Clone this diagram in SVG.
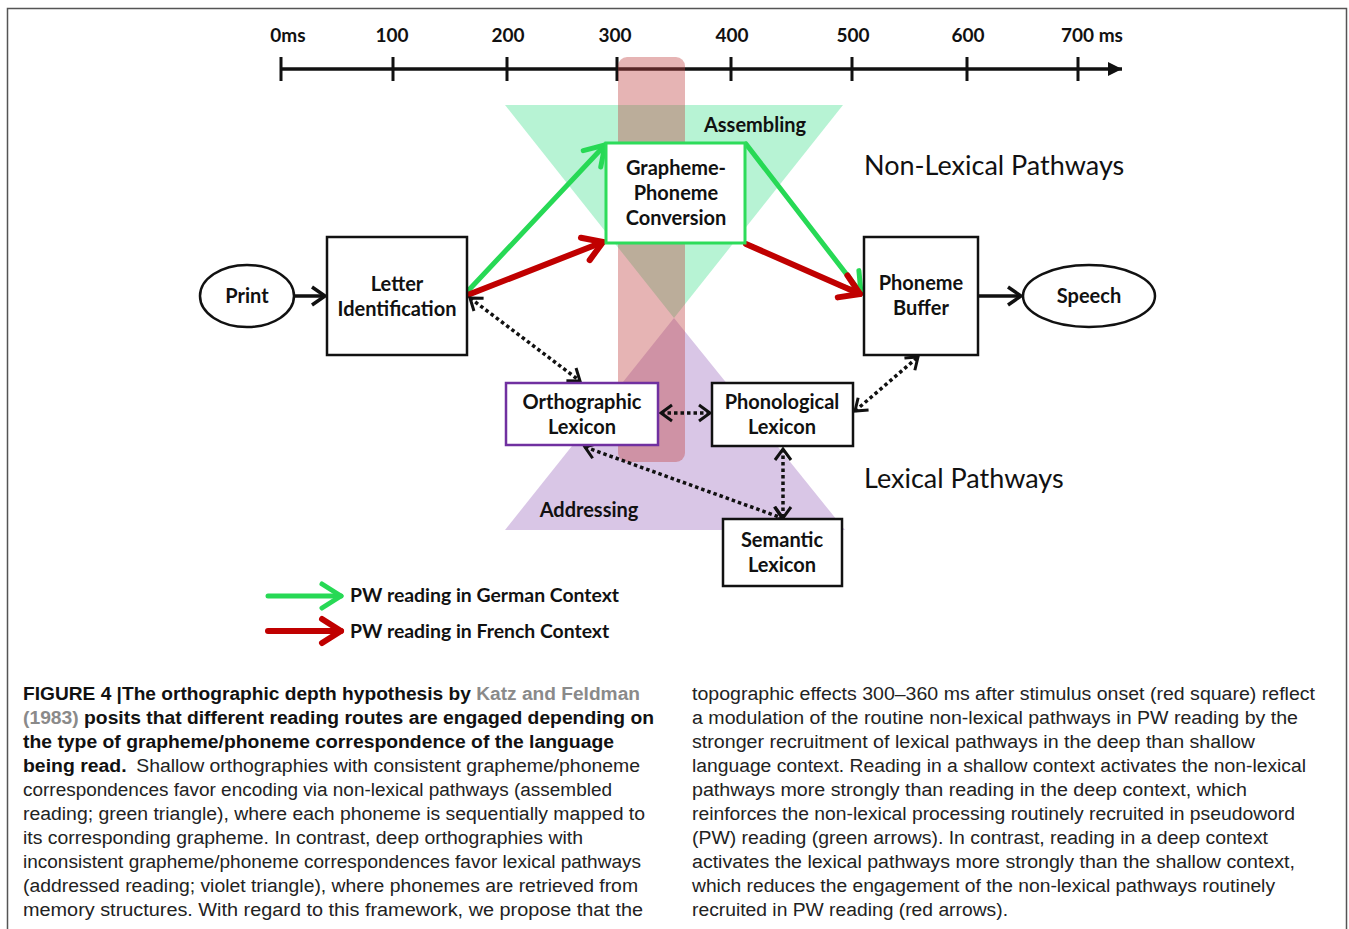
<svg xmlns="http://www.w3.org/2000/svg" width="1349" height="929" viewBox="0 0 1349 929">
<defs>
<style>
.lbl{font-family:Lato,"Open Sans","Liberation Sans",sans-serif;font-weight:bold;font-size:20px;fill:#111;text-anchor:middle}
.tl{font-family:Lato,"Open Sans","Liberation Sans",sans-serif;font-weight:bold;font-size:19px;fill:#111;text-anchor:middle}
.big{font-family:Lato,"Open Sans","Liberation Sans",sans-serif;font-size:27px;fill:#111}
.leg{font-family:Lato,"Open Sans","Liberation Sans",sans-serif;font-weight:bold;font-size:19.4px;fill:#111}
.box{fill:#fff;stroke:#111;stroke-width:2.5}
.cap{font-family:"Liberation Sans",Arial,sans-serif;font-size:18px;fill:#222}
.b{font-weight:bold;fill:#111}
.g{font-weight:bold;fill:#8a8a8a}
.garr{stroke:#27d955;stroke-width:5;fill:none;stroke-linecap:round}
.rarr{stroke:#c00000;stroke-width:6;fill:none;stroke-linecap:round}
.karr{stroke:#111;stroke-width:3.5;fill:none}
.dot{stroke:#111;stroke-width:3.5;fill:none;stroke-dasharray:3.5 3}
</style>
<marker id="mg" markerUnits="userSpaceOnUse" viewBox="-26 -16 30 32" refX="0" refY="0" markerWidth="30" markerHeight="32" orient="auto">
<path d="M-19,-12 L0,0 L-19,12" fill="none" stroke="#27d955" stroke-width="5" stroke-linecap="round" stroke-linejoin="round"/>
</marker>
<marker id="mr" markerUnits="userSpaceOnUse" viewBox="-26 -16 30 32" refX="0" refY="0" markerWidth="30" markerHeight="32" orient="auto">
<path d="M-19,-12 L0,0 L-19,12" fill="none" stroke="#c00000" stroke-width="6" stroke-linecap="round" stroke-linejoin="round"/>
</marker>
<marker id="mk" markerUnits="userSpaceOnUse" viewBox="-18 -12 22 24" refX="0" refY="0" markerWidth="22" markerHeight="24" orient="auto">
<path d="M-13,-9 L0,0 L-13,9" fill="none" stroke="#111" stroke-width="3.5" stroke-linejoin="miter"/>
</marker>
<marker id="md" markerUnits="userSpaceOnUse" viewBox="-16 -11 20 22" refX="0" refY="0" markerWidth="20" markerHeight="22" orient="auto-start-reverse">
<path d="M-11,-8 L0,0 L-11,8" fill="none" stroke="#111" stroke-width="3"/>
</marker>
<marker id="mt" markerUnits="userSpaceOnUse" viewBox="-16 -9 18 18" refX="0" refY="0" markerWidth="18" markerHeight="18" orient="auto">
<path d="M-14,-7 L0,0 L-14,7 Z" fill="#111"/>
</marker>
</defs>
<rect x="0" y="0" width="1349" height="929" fill="#fff"/>
<path d="M7.5,929 V8.5 H1346.5 V929" fill="none" stroke="#555" stroke-width="1.5"/>

<g id="timeline">
<line x1="280" y1="69" x2="1122" y2="69" stroke="#111" stroke-width="3.5" marker-end="url(#mt)"/>
<g stroke="#111" stroke-width="3">
<line x1="281" y1="57" x2="281" y2="81"/>
<line x1="393" y1="57" x2="393" y2="81"/>
<line x1="507" y1="57" x2="507" y2="81"/>
<line x1="617" y1="57" x2="617" y2="81"/>
<line x1="731" y1="57" x2="731" y2="81"/>
<line x1="852" y1="57" x2="852" y2="81"/>
<line x1="967" y1="57" x2="967" y2="81"/>
<line x1="1078" y1="57" x2="1078" y2="81"/>
</g>
<text class="tl" x="288" y="42">0ms</text>
<text class="tl" x="392" y="42">100</text>
<text class="tl" x="508" y="42">200</text>
<text class="tl" x="615" y="42">300</text>
<text class="tl" x="732" y="42">400</text>
<text class="tl" x="853" y="42">500</text>
<text class="tl" x="968" y="42">600</text>
<text class="tl" x="1092" y="42">700 ms</text>
</g>

<g id="regions">
<polygon points="505,105 843,105 674,318" fill="#b7f3d4"/>
<polygon points="674,318 845,530 505,530" fill="#d9c6e6"/>
<rect x="618" y="57" width="67" height="405" rx="9" fill="rgb(192,67,67)" fill-opacity="0.4"/>
<text class="lbl" x="755" y="132" font-size="19">Assembling</text>
<text class="lbl" x="589" y="517" font-size="19">Addressing</text>
</g>

<g id="connectors">
<line class="karr" x1="294" y1="296" x2="325" y2="296" marker-end="url(#mk)"/>
<line class="karr" x1="978" y1="296" x2="1021" y2="296" marker-end="url(#mk)"/>
<line class="garr" x1="466" y1="293" x2="605" y2="145" marker-end="url(#mg)"/>
<line class="rarr" x1="465" y1="296" x2="603" y2="242" marker-end="url(#mr)"/>
<line class="garr" x1="746" y1="144" x2="861" y2="293" marker-end="url(#mg)"/>
<line class="rarr" x1="746" y1="244" x2="860" y2="294" marker-end="url(#mr)"/>
<line class="dot" x1="470" y1="298" x2="580" y2="381" marker-start="url(#md)" marker-end="url(#md)"/>
<line class="dot" x1="661" y1="413" x2="710" y2="413" marker-start="url(#md)" marker-end="url(#md)"/>
<line class="dot" x1="855" y1="411" x2="918" y2="357" marker-start="url(#md)" marker-end="url(#md)"/>
<line class="dot" x1="585" y1="447" x2="782" y2="518" marker-start="url(#md)" marker-end="url(#md)"/>
<line class="dot" x1="783" y1="449" x2="783" y2="518" marker-start="url(#md)" marker-end="url(#md)"/>
</g>

<g id="print">
<ellipse cx="247" cy="296" rx="47" ry="31" fill="#fff" stroke="#111" stroke-width="2.5"/>
<text class="lbl" x="247" y="303">Print</text>
</g>
<g id="letter-identification">
<rect class="box" x="327" y="237" width="140" height="118"/>
<text class="lbl" x="397" y="291">Letter</text>
<text class="lbl" x="397" y="316">Identification</text>
</g>
<g id="gpc">
<rect x="606" y="143" width="139" height="100" fill="#fff" stroke="#2ddc5a" stroke-width="3"/>
<text class="lbl" x="676" y="175">Grapheme-</text>
<text class="lbl" x="676" y="200">Phoneme</text>
<text class="lbl" x="676" y="225">Conversion</text>
</g>
<g id="phoneme-buffer">
<rect class="box" x="864" y="237" width="114" height="118"/>
<text class="lbl" x="921" y="290">Phoneme</text>
<text class="lbl" x="921" y="315">Buffer</text>
</g>
<g id="speech">
<ellipse cx="1089" cy="296" rx="66" ry="31" fill="#fff" stroke="#111" stroke-width="2.5"/>
<text class="lbl" x="1089" y="303">Speech</text>
</g>
<g id="orthographic-lexicon">
<rect x="506" y="383" width="152" height="62" fill="#fff" stroke="#7030a0" stroke-width="2.5"/>
<text class="lbl" x="582" y="409">Orthographic</text>
<text class="lbl" x="582" y="434">Lexicon</text>
</g>
<g id="phonological-lexicon">
<rect class="box" x="712" y="383" width="141" height="63"/>
<text class="lbl" x="782" y="409">Phonological</text>
<text class="lbl" x="782" y="434">Lexicon</text>
</g>
<g id="semantic-lexicon">
<rect class="box" x="723" y="519" width="119" height="67"/>
<text class="lbl" x="782" y="547">Semantic</text>
<text class="lbl" x="782" y="572">Lexicon</text>
</g>

<g id="headings">
<text class="big" x="864" y="175">Non-Lexical Pathways</text>
<text class="big" x="864" y="488">Lexical Pathways</text>
</g>

<g id="legend">
<line class="garr" x1="268" y1="596" x2="341" y2="596" marker-end="url(#mg)"/>
<line class="rarr" x1="268" y1="631" x2="341" y2="631" marker-end="url(#mr)"/>
<text class="leg" x="350" y="602">PW reading in German Context</text>
<text class="leg" x="350" y="638">PW reading in French Context</text>
</g>

<g id="caption">
<text class="cap" x="23" y="700" textLength="617" lengthAdjust="spacingAndGlyphs"><tspan class="b">FIGURE 4 |The orthographic depth hypothesis by </tspan><tspan class="g">Katz and Feldman</tspan></text>
<text class="cap" x="23" y="724" textLength="631" lengthAdjust="spacingAndGlyphs"><tspan class="g">(1983)</tspan><tspan class="b"> posits that different reading routes are engaged depending on</tspan></text>
<text class="cap b" x="23" y="748" textLength="591" lengthAdjust="spacingAndGlyphs">the type of grapheme/phoneme correspondence of the language</text>
<text class="cap" x="23" y="772" textLength="617" lengthAdjust="spacingAndGlyphs"><tspan class="b">being read.</tspan><tspan dx="9">Shallow orthographies with consistent grapheme/phoneme</tspan></text>
<text class="cap" x="23" y="796" textLength="589" lengthAdjust="spacingAndGlyphs">correspondences favor encoding via non-lexical pathways (assembled</text>
<text class="cap" x="23" y="820" textLength="622" lengthAdjust="spacingAndGlyphs">reading; green triangle), where each phoneme is sequentially mapped to</text>
<text class="cap" x="23" y="844" textLength="560" lengthAdjust="spacingAndGlyphs">its corresponding grapheme. In contrast, deep orthographies with</text>
<text class="cap" x="23" y="868" textLength="618" lengthAdjust="spacingAndGlyphs">inconsistent grapheme/phoneme correspondences favor lexical pathways</text>
<text class="cap" x="23" y="892" textLength="615" lengthAdjust="spacingAndGlyphs">(addressed reading; violet triangle), where phonemes are retrieved from</text>
<text class="cap" x="23" y="916" textLength="620" lengthAdjust="spacingAndGlyphs">memory structures. With regard to this framework, we propose that the</text>

<text class="cap" x="692" y="700" textLength="623" lengthAdjust="spacingAndGlyphs">topographic effects 300–360 ms after stimulus onset (red square) reflect</text>
<text class="cap" x="692" y="724" textLength="606" lengthAdjust="spacingAndGlyphs">a modulation of the routine non-lexical pathways in PW reading by the</text>
<text class="cap" x="692" y="748" textLength="563" lengthAdjust="spacingAndGlyphs">stronger recruitment of lexical pathways in the deep than shallow</text>
<text class="cap" x="692" y="772" textLength="614" lengthAdjust="spacingAndGlyphs">language context. Reading in a shallow context activates the non-lexical</text>
<text class="cap" x="692" y="796" textLength="555" lengthAdjust="spacingAndGlyphs">pathways more strongly than reading in the deep context, which</text>
<text class="cap" x="692" y="820" textLength="603" lengthAdjust="spacingAndGlyphs">reinforces the non-lexical processing routinely recruited in pseudoword</text>
<text class="cap" x="692" y="844" textLength="576" lengthAdjust="spacingAndGlyphs">(PW) reading (green arrows). In contrast, reading in a deep context</text>
<text class="cap" x="692" y="868" textLength="603" lengthAdjust="spacingAndGlyphs">activates the lexical pathways more strongly than the shallow context,</text>
<text class="cap" x="692" y="892" textLength="583" lengthAdjust="spacingAndGlyphs">which reduces the engagement of the non-lexical pathways routinely</text>
<text class="cap" x="692" y="916" textLength="316" lengthAdjust="spacingAndGlyphs">recruited in PW reading (red arrows).</text>
</g>
</svg>
